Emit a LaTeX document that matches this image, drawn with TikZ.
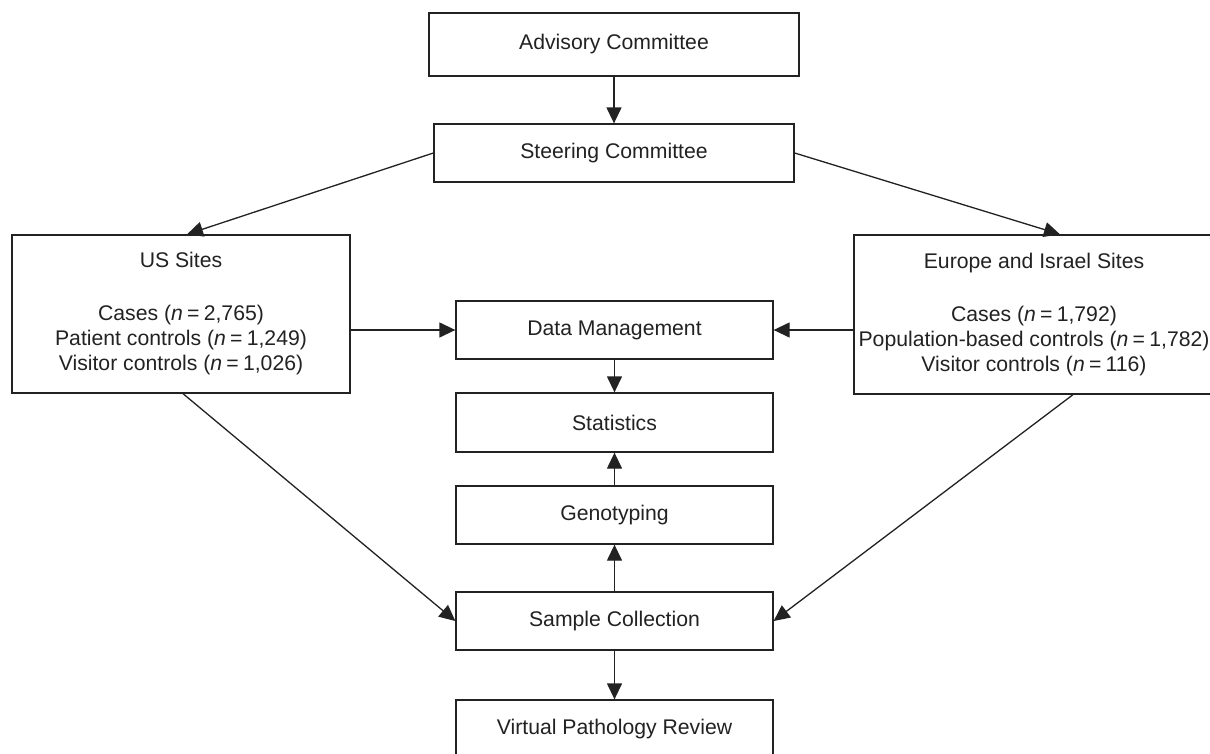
\documentclass[tikz,border=0pt]{standalone}
\usepackage{fontspec}
\setmainfont{Liberation Sans}
\usetikzlibrary{arrows.meta}
\definecolor{ink}{HTML}{222222}
\newcommand{\nn}{\textit{n}\hspace{0.2em}=\hspace{0.2em}}
\begin{document}
\begin{tikzpicture}[x=1pt,y=-1pt,
  box/.style={draw=ink,line width=1.3pt,text=ink,inner sep=0pt,align=center,
    font=\fontsize{21.2}{25}\selectfont},
  conn/.style={draw=ink,line width=1.3pt,-{Triangle[length=16pt,width=15pt]}}]
\useasboundingbox (0,0) rectangle (1210,753);
\clip (0,0) rectangle (1210,753);
\fill[white] (0,0) rectangle (1210,753);
\node[box,minimum width=370pt,minimum height=63pt] (adv) at (614,44.5) {Advisory Committee};
\node[box,minimum width=360pt,minimum height=58pt] (steer) at (614,153) {Steering Committee};
\node[box,minimum width=338pt,minimum height=158pt] (us) at (181,314)
  {US Sites\\[28pt]Cases (\nn2,765)\\Patient controls (\nn1,249)\\Visitor controls (\nn1,026)};
\node[box,minimum width=360pt,minimum height=159pt] (eu) at (1034,314.5)
  {Europe and Israel Sites\\[28pt]Cases (\nn1,792)\\Population-based controls (\nn1,782)\\Visitor controls (\nn116)};
\node[box,minimum width=317pt,minimum height=58pt] (dm) at (614.5,330) {Data Management};
\node[box,minimum width=317pt,minimum height=59pt] (stat) at (614.5,422.5) {Statistics};
\node[box,minimum width=317pt,minimum height=58pt] (geno) at (614.5,515) {Genotyping};
\node[box,minimum width=317pt,minimum height=58pt] (samp) at (614.5,621) {Sample Collection};
\node[box,minimum width=317pt,minimum height=58pt] (vpr) at (614.5,729) {Virtual Pathology Review};
\draw[conn] (adv) -- (steer);
\draw[conn] (steer.west) -- ([xshift=6pt]us.north);
\draw[conn] (steer.east) -- ([xshift=26pt]eu.north);
\draw[conn] (us.east |- dm.west) -- (dm.west);
\draw[conn] (eu.west |- dm.east) -- (dm.east);
\draw[conn] (dm) -- (stat);
\draw[conn] (geno) -- (stat);
\draw[conn] (samp) -- (geno);
\draw[conn] (samp) -- (vpr);
\draw[conn] ([xshift=2pt]us.south) -- (samp.west);
\draw[conn] ([xshift=39pt]eu.south) -- (samp.east);
\end{tikzpicture}
\end{document}
